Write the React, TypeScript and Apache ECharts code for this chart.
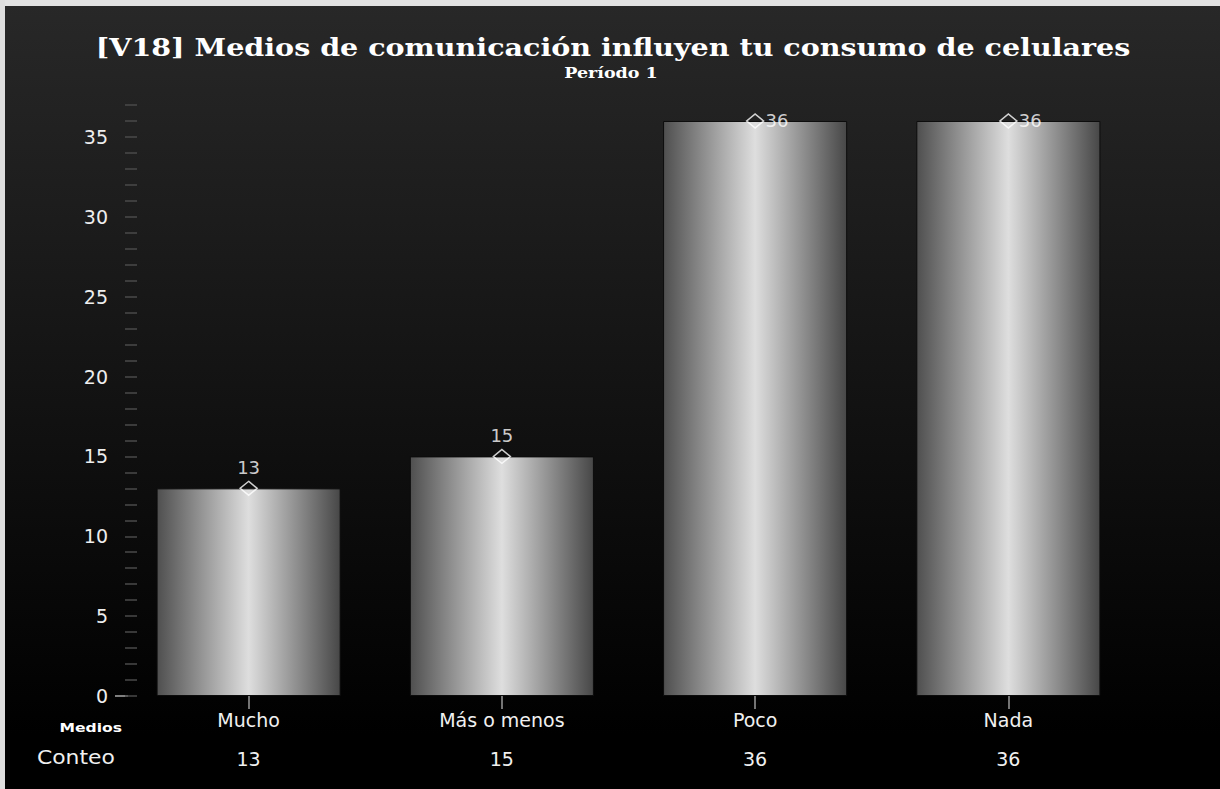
import React, { useEffect, useRef } from "react";
import * as echarts from "echarts";

const categories = ["Mucho", "Más o menos", "Poco", "Nada"];
const counts = [13, 15, 36, 36];
const countLabels = ["13", "15", "36", "36"];
const titleText = "[V18] Medios de comunicación influyen tu consumo de celulares";
const subtitleText = "Período 1";
const yMin = 0;
const yMax = 37;
const yInterval = 5;

export default function App() {
  const ref = useRef<HTMLDivElement>(null);
  useEffect(() => {
    if (!ref.current) return;
    const chart = echarts.init(ref.current, undefined, { renderer: "svg" });
    const sans = "DejaVu Sans";
    const serif = "DejaVu Serif";
    const option: any = {
      animation: false,
      backgroundColor: new echarts.graphic.LinearGradient(0, 0, 0, 1, [
        { offset: 0, color: "#282828" },
        { offset: 0.93, color: "#000000" },
        { offset: 1, color: "#000000" },
      ]),
      graphic: [
        { type: "rect", left: 0, top: 0, shape: { width: 1220, height: 6 }, style: { fill: "#e2e2e2" }, z: 100 },
        { type: "rect", left: 0, top: 0, shape: { width: 5, height: 789 }, style: { fill: "#dedede" }, z: 100 },
        {
          type: "text",
          x: 613,
          y: 47,
          scaleX: 1.19,
          style: {
            text: titleText,
            fill: "#ffffff",
            font: `bold 24px ${serif}`,
            textAlign: "center",
            textVerticalAlign: "middle",
          },
        },
        {
          type: "text",
          x: 611,
          y: 73,
          scaleX: 1.25,
          style: {
            text: subtitleText,
            fill: "#ffffff",
            font: `bold 14px ${serif}`,
            textAlign: "center",
            textVerticalAlign: "middle",
          },
        },
        {
          type: "text",
          x: 122,
          y: 728,
          scaleX: 1.3,
          style: {
            text: "Medios",
            fill: "#ffffff",
            font: `bold 12px ${sans}`,
            textAlign: "right",
            textVerticalAlign: "middle",
          },
        },
        {
          type: "text",
          x: 37,
          y: 758,
          scaleX: 1.15,
          style: {
            text: "Conteo",
            fill: "#f0f0f0",
            font: `19px ${sans}`,
            textAlign: "left",
            textVerticalAlign: "middle",
          },
        },
      ],
      grid: [
        { left: 115, right: 83, top: 105, bottom: 93 },
        { left: 122, right: 85, top: 105, bottom: 93 },
      ],
      xAxis: [
        { gridIndex: 0, type: "category", data: categories, show: false },
        {
          gridIndex: 1,
          type: "category",
          data: categories,
          position: "bottom",
          axisLine: { show: false },
          axisTick: { show: true, alignWithLabel: true, length: 13, lineStyle: { color: "#9a9a9a", width: 1.5 } },
          axisLabel: { margin: 14, color: "#f0f0f0", fontSize: 19, fontFamily: sans },
        },
        {
          gridIndex: 1,
          type: "category",
          data: categories,
          position: "bottom",
          axisLine: { show: false },
          axisTick: { show: true, inside: true, alignWithLabel: true, length: 11, lineStyle: { color: "#9a9a9a", width: 1.5 } },
          axisLabel: { show: false },
        },
        {
          gridIndex: 1,
          type: "category",
          data: countLabels,
          position: "bottom",
          offset: 39,
          axisLine: { show: false },
          axisTick: { show: false },
          axisLabel: { margin: 14, color: "#f0f0f0", fontSize: 19, fontFamily: sans },
        },
      ],
      yAxis: [
        {
          gridIndex: 0,
          type: "value",
          min: yMin,
          max: yMax,
          interval: yInterval,
          axisLine: { show: false },
          axisTick: {
            show: true,
            inside: true,
            length: 13,
            customValues: [0],
            lineStyle: { color: "#aaaaaa", width: 1.5 },
          },
          axisLabel: {
            margin: 7,
            color: "#eeeeee",
            fontSize: 19,
            fontFamily: sans,
            formatter: (v: number) => (v % yInterval === 0 ? String(v) : ""),
          },
          splitLine: {
            show: true,
            showMinLine: false,
            showMaxLine: false,
            lineStyle: { color: "#7c7c7c", width: 1.5 },
          },
        },
        {
          gridIndex: 1,
          type: "value",
          min: yMin,
          max: yMax,
          interval: 1,
          offset: -3,
          axisLine: { show: false },
          axisTick: { show: true, inside: true, length: 12, lineStyle: { color: "#4a4a4a", width: 1.5 } },
          axisLabel: { show: false },
          splitLine: { show: false },
        },
      ],
      series: [
        {
          type: "bar",
          xAxisIndex: 1,
          yAxisIndex: 1,
          data: counts,
          barWidth: "72.7%",
          z: 3,
          itemStyle: {
            color: new echarts.graphic.LinearGradient(0, 0, 1, 0, [
              { offset: 0, color: "#4f4f4f" },
              { offset: 0.5, color: "#dedede" },
              { offset: 1, color: "#474747" },
            ]),
            borderColor: "#0c0c0c",
            borderWidth: 1,
          },
        },
        {
          type: "scatter",
          xAxisIndex: 1,
          yAxisIndex: 1,
          z: 5,
          symbol: "diamond",
          symbolSize: [17, 14],
          itemStyle: { color: "rgba(0,0,0,0)", borderColor: "#ffffff", borderWidth: 1.5 },
          data: counts.map((v) => ({
            value: v,
            label:
              v > yMax - 3
                ? { position: "right", distance: 1 }
                : { position: "top", distance: 4 },
          })),
          label: {
            show: true,
            color: "#ffffff",
            fontSize: 18,
            fontFamily: sans,
          },
        },
      ],
    };
    chart.setOption(option);
    return () => chart.dispose();
  }, []);
  return (
    <div
      ref={ref}
      style={{ position: "fixed", left: 0, top: 0, width: 1220, height: 789 }}
    />
  );
}
